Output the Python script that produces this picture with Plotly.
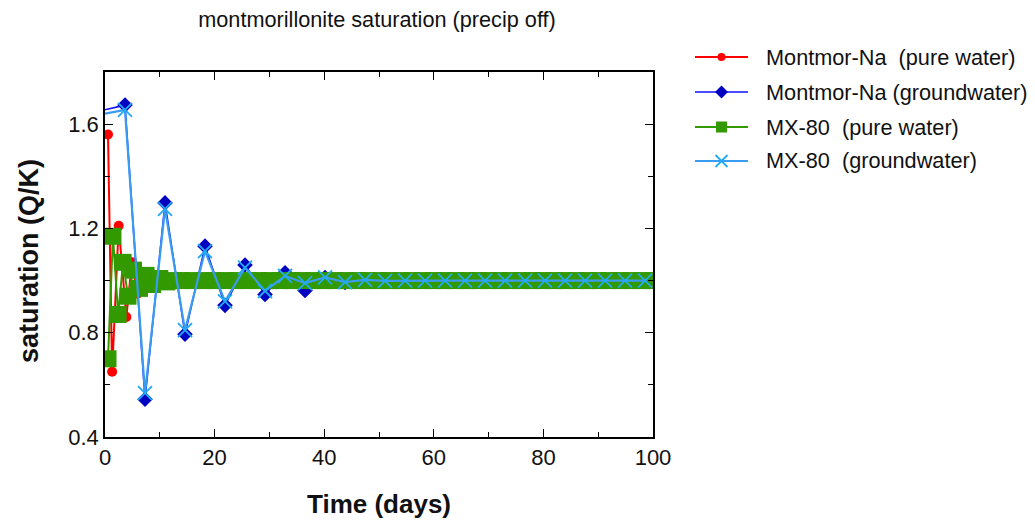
import plotly.graph_objects as go

W, H = 1035, 521

# ---- data: time (days) and saturation index Q/K ----
# Montmor-Na in pure water
na_pure_t = [0.55, 1.3, 2.5, 3.9, 4.9, 5.9, 7.0, 8.0, 9.2, 10.4, 11.6,
             14, 16, 18, 20, 22, 24, 26, 28, 30, 32, 34, 36, 38, 40, 42, 44,
             46, 48, 50, 52, 54, 56, 58, 60, 62, 64, 66, 68, 70, 72, 74, 76,
             78, 80, 82, 84, 86, 88, 90, 92, 94, 96, 98, 100]
na_pure_q = [1.56, 0.65, 1.21, 0.86, 1.07, 0.95, 1.03, 0.98, 1.01, 0.995, 1.0,
             1.0, 1.0, 1.0, 1.0, 1.0, 1.0, 1.0, 1.0, 1.0, 1.0, 1.0, 1.0, 1.0,
             1.0, 1.0, 1.0, 1.0, 1.0, 1.0, 1.0, 1.0, 1.0, 1.0, 1.0, 1.0, 1.0,
             1.0, 1.0, 1.0, 1.0, 1.0, 1.0, 1.0, 1.0, 1.0, 1.0, 1.0, 1.0, 1.0,
             1.0, 1.0, 1.0, 1.0, 1.0]

# Montmor-Na in groundwater
na_gw_t = [0, 3.65, 7.3, 10.95, 14.6, 18.25, 21.9, 25.55, 29.2, 32.85, 36.5,
           40.15, 43.8, 47.45, 51.1, 54.75, 58.4, 62.05, 65.7, 69.35, 73.0,
           76.65, 80.3, 83.95, 87.6, 91.25, 94.9, 98.55]
na_gw_q = [1.655, 1.673, 0.545, 1.298, 0.794, 1.132, 0.905, 1.06, 0.947,
           1.03, 0.962, 1.012, 0.993, 1.004, 0.998, 1.001, 1.0, 1.0, 1.0,
           1.0, 1.0, 1.0, 1.0, 1.0, 1.0, 1.0, 1.0, 1.0]

# MX-80 in pure water
mx_pure_t = [0.55, 1.45, 2.4, 3.3, 4.2, 5.2, 6.3, 7.5, 8.7, 10.0, 11.3, 12.6,
             14, 16, 18, 20, 22, 24, 26, 28, 30, 32, 34, 36, 38, 40, 42, 44,
             46, 48, 50, 52, 54, 56, 58, 60, 62, 64, 66, 68, 70, 72, 74, 76,
             78, 80, 82, 84, 86, 88, 90, 92, 94, 96, 98, 100]
mx_pure_q = [0.70, 1.17, 0.87, 1.07, 0.94, 1.04, 0.97, 1.02, 0.985, 1.008,
             0.995, 1.0,
             1.0, 1.0, 1.0, 1.0, 1.0, 1.0, 1.0, 1.0, 1.0, 1.0, 1.0, 1.0, 1.0,
             1.0, 1.0, 1.0, 1.0, 1.0, 1.0, 1.0, 1.0, 1.0, 1.0, 1.0, 1.0, 1.0,
             1.0, 1.0, 1.0, 1.0, 1.0, 1.0, 1.0, 1.0, 1.0, 1.0, 1.0, 1.0, 1.0,
             1.0, 1.0, 1.0, 1.0, 1.0]

# MX-80 in groundwater
mx_gw_t = [0, 3.65, 7.3, 10.95, 14.6, 18.25, 21.9, 25.55, 29.2, 32.85, 36.5,
           40.15, 43.8, 47.45, 51.1, 54.75, 58.4, 62.05, 65.7, 69.35, 73.0,
           76.65, 80.3, 83.95, 87.6, 91.25, 94.9, 98.55]
mx_gw_q = [1.64, 1.655, 0.568, 1.275, 0.81, 1.113, 0.92, 1.05, 0.96, 1.018,
           0.99, 1.012, 0.994, 1.003, 0.999, 1.0, 1.0, 1.0, 1.0, 1.0, 1.0,
           1.0, 1.0, 1.0, 1.0, 1.0, 1.0, 1.0]

names = ["Montmor-Na  (pure water)", "Montmor-Na (groundwater)",
         "MX-80  (pure water)", "MX-80  (groundwater)"]

x_ticks = [0, 20, 40, 60, 80, 100]
y_ticks = [0.4, 0.8, 1.2, 1.6]

FONT = "Liberation Sans, Arial, Helvetica, sans-serif"

# ---- series styles ----
styles = [
    dict(line=dict(color="#ff0000", width=2),
         marker=dict(symbol="circle", size=10, color="#ff0000"),
         leg_marker=dict(symbol="circle", size=8, color="#ff0000")),
    dict(line=dict(color="#1010ff", width=1.6),
         marker=dict(symbol="diamond", size=12, color="#0000c0",
                     line=dict(width=0)),
         leg_marker=dict(symbol="diamond", size=10, color="#0000c0")),
    dict(line=dict(color="#339900", width=2),
         marker=dict(symbol="square", size=17, color="#339900"),
         leg_marker=dict(symbol="square", size=11, color="#339900")),
    dict(line=dict(color="#3a9cf0", width=2.2),
         marker=dict(symbol="x-thin", size=14, color="#22aaf2",
                     line=dict(color="#22aaf2", width=1.8)),
         leg_marker=dict(symbol="x-thin", size=12, color="#22aaf2",
                         line=dict(color="#22aaf2", width=1.8))),
]

series = [(na_pure_t, na_pure_q), (na_gw_t, na_gw_q),
          (mx_pure_t, mx_pure_q), (mx_gw_t, mx_gw_q)]

fig = go.Figure()

for (t, q), name, st in zip(series, names, styles):
    mk = dict(st["marker"])
    mk["opacity"] = 1
    # the groundwater runs start at t = 0 without a plotted symbol
    if t[0] == 0:
        mk["size"] = [0] + [mk["size"]] * (len(t) - 1)
    fig.add_trace(go.Scatter(x=t, y=q, name=name, mode="lines+markers",
                             line=st["line"], marker=mk, showlegend=False,
                             xaxis="x", yaxis="y"))

# ---- legend drawn on its own small axes (line + symbol) ----
legend_rows = [57, 92, 127, 161]
for row, name, st in zip(legend_rows, names, styles):
    fig.add_trace(go.Scatter(x=[0, 1], y=[row, row], mode="lines",
                             line=st["line"], showlegend=False,
                             hoverinfo="skip", xaxis="x2", yaxis="y2"))
    fig.add_trace(go.Scatter(x=[0.5], y=[row], mode="markers",
                             marker=st["leg_marker"], showlegend=False,
                             hoverinfo="skip", xaxis="x2", yaxis="y2",
                             cliponaxis=False))

annotations = []
for row, name in zip(legend_rows, names):
    annotations.append(dict(x=764 / W, y=1 - row / H, xref="paper",
                            yref="paper", xanchor="left", yanchor="middle",
                            text=name, showarrow=False,
                            font=dict(family=FONT, size=21.7, color="#111")))

# axis titles
annotations.append(dict(x=379 / W, y=1 - 504 / H, xref="paper", yref="paper",
                        xanchor="center", yanchor="middle",
                        text="<b>Time (days)</b>", showarrow=False,
                        font=dict(family=FONT, size=26, color="#111")))
annotations.append(dict(x=29 / W, y=1 - 261 / H, xref="paper", yref="paper",
                        xanchor="center", yanchor="middle", textangle=-90,
                        text="<b>saturation (Q/K)</b>", showarrow=False,
                        font=dict(family=FONT, size=27, color="#111")))

axis_common = dict(showgrid=False, zeroline=False, showline=True,
                   linecolor="black", linewidth=1.5, mirror="allticks",
                   ticks="inside", ticklen=8, tickwidth=1.3,
                   tickcolor="black",
                   tickfont=dict(family=FONT, size=22, color="#111"))

fig.update_layout(
    width=W, height=H, autosize=False,
    margin=dict(l=0, r=0, t=0, b=0),
    paper_bgcolor="white", plot_bgcolor="rgba(0,0,0,0)",
    title=dict(text="montmorillonite saturation (precip off)",
               x=377 / W, xanchor="center", xref="paper",
               y=1 - 19 / H, yanchor="middle", yref="paper",
               font=dict(family=FONT, size=21.7, color="#111")),
    xaxis=dict(domain=[105 / W, 653 / W], range=[0, 100],
               tickvals=x_ticks, automargin=False,
               minor=dict(dtick=10, tick0=0, ticks="inside", ticklen=5,
                          tickwidth=1.3, tickcolor="black"),
               anchor="y", **axis_common),
    yaxis=dict(domain=[(H - 437) / H, (H - 72) / H], range=[0.4, 1.8],
               tickvals=y_ticks, tickformat=".1f", automargin=False,
               minor=dict(dtick=0.2, tick0=0.4, ticks="inside", ticklen=5,
                          tickwidth=1.3, tickcolor="black"),
               anchor="x", **axis_common),
    xaxis2=dict(domain=[695 / W, 748 / W], range=[0, 1], visible=False,
                anchor="y2", fixedrange=True),
    yaxis2=dict(domain=[0, 1], range=[H, 0], visible=False,
                anchor="x2", fixedrange=True),
    annotations=annotations,
    showlegend=False,
)

fig.write_html("out.html")
